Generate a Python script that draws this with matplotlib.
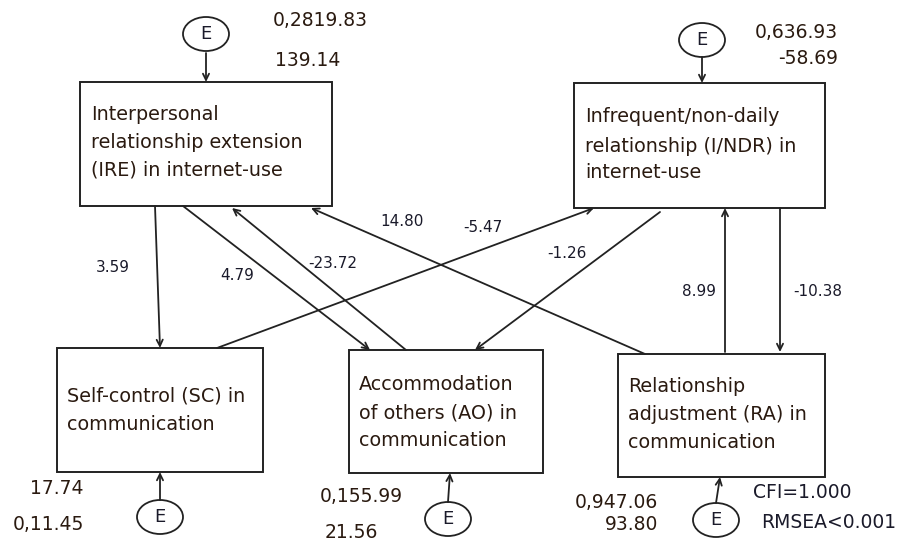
import matplotlib
matplotlib.use('Agg')
import matplotlib.pyplot as plt
from matplotlib.patches import Rectangle, Ellipse

plt.rcParams['font.family'] = ['DejaVu Sans']

# node texts
nodes = ['IRE', 'INDR', 'SC', 'AO', 'RA']
node_text = {
    'IRE': ['Interpersonal', 'relationship extension', '(IRE) in internet-use'],
    'INDR': ['Infrequent/non-daily', 'relationship (I/NDR) in', 'internet-use'],
    'SC': ['Self-control (SC) in', 'communication'],
    'AO': ['Accommodation', 'of others (AO) in', 'communication'],
    'RA': ['Relationship', 'adjustment (RA) in', 'communication'],
}
# path coefficients
path_from = ['IRE', 'IRE', 'AO', 'RA', 'SC', 'INDR', 'RA', 'INDR']
path_to = ['SC', 'AO', 'IRE', 'IRE', 'INDR', 'AO', 'INDR', 'RA']
path_coef = ['3.59', '4.79', '-23.72', '14.80', '-5.47', '-1.26', '8.99', '-10.38']
# variance / intercept labels
stats_top = {'IRE': ['0,2819.83', '139.14'], 'INDR': ['0,636.93', '-58.69'],
             'SC': ['17.74', '0,11.45'], 'AO': ['0,155.99', '21.56'],
             'RA': ['0,947.06', '93.80']}
fit_text = ['CFI=1.000', 'RMSEA<0.001']

# layout (pixels, y downward)
box = {'IRE': (80, 82, 332, 206), 'INDR': (574, 83, 825, 208),
       'SC': (57, 348, 263, 472), 'AO': (349, 350, 543, 473),
       'RA': (618, 354, 825, 477)}
text_pos = {'IRE': (91, [115, 143, 170]), 'INDR': (585, [117, 146, 173]),
            'SC': (67, [396, 425]), 'AO': (359, [385, 413, 440]),
            'RA': (628, [387, 415, 442])}
err = {'IRE': ((206, 34), (206, 53), (206, 82)),
       'INDR': ((702, 40), (702, 57), (702, 83)),
       'SC': ((160, 517), (160, 500), (160, 472)),
       'AO': ((448, 519), (448, 502), (450, 473)),
       'RA': ((716, 520), (716, 503), (720, 477))}
path_xy = [((155, 206), (160, 348)), ((183, 206), (370, 350)),
           ((406, 350), (232, 208)), ((645, 354), (311, 208)),
           ((217, 348), (594, 208)), ((660, 212), (475, 350)),
           ((725, 352), (725, 208)), ((780, 208), (780, 352))]
coef_pos = [(96, 267), (220, 276), (308, 264), (380, 222), (463, 227),
            (547, 253), (682, 292), (793, 292)]
stats_pos = {'IRE': [(273, 20, 'left'), (275, 60, 'left')],
             'INDR': [(838, 33, 'right'), (838, 58, 'right')],
             'SC': [(30, 489, 'left'), (13, 525, 'left')],
             'AO': [(320, 496, 'left'), (325, 533, 'left')],
             'RA': [(658, 503, 'right'), (658, 525, 'right')]}
fit_pos = [(753, 492), (761, 522)]

fig = plt.figure(figsize=(8.99, 5.44), dpi=100)
ax = fig.add_axes([0, 0, 1, 1])
ax.set_xlim(0, 899)
ax.set_ylim(544, 0)
ax.axis('off')

arrow = dict(arrowstyle='->,head_length=0.45,head_width=0.22', lw=1.3,
             color='#222222', shrinkA=0, shrinkB=0)

for n in nodes:
    x0, y0, x1, y1 = box[n]
    ax.add_patch(Rectangle((x0, y0), x1 - x0, y1 - y0, fill=False,
                           lw=1.4, ec='#222222'))
    tx, tys = text_pos[n]
    for line, ty in zip(node_text[n], tys):
        ax.text(tx, ty, line, fontsize=13.8, color='#2a1a10', va='center',
                ha='left')
    c, a, b = err[n]
    ax.add_patch(Ellipse(c, 46, 34, fill=False, lw=1.3, ec='#222222'))
    ax.text(c[0], c[1], 'E', fontsize=13, ha='center', va='center',
            color='#1a1a2a')
    ax.annotate('', xy=b, xytext=a, arrowprops=arrow)
    for s, (sx, sy, ha) in zip(stats_top[n], stats_pos[n]):
        ax.text(sx, sy, s, fontsize=13.5, ha=ha, va='center', color='#2a1a10')

for (a, b), c, (cx, cy) in zip(path_xy, path_coef, coef_pos):
    ax.annotate('', xy=b, xytext=a, arrowprops=arrow)
    ax.text(cx, cy, c, fontsize=11, ha='left', va='center', color='#1a1a2a')

for t, (fx, fy) in zip(fit_text, fit_pos):
    ax.text(fx, fy, t, fontsize=13.5, ha='left', va='center', color='#1a1a2a')

fig.savefig('out.png', dpi=100)
